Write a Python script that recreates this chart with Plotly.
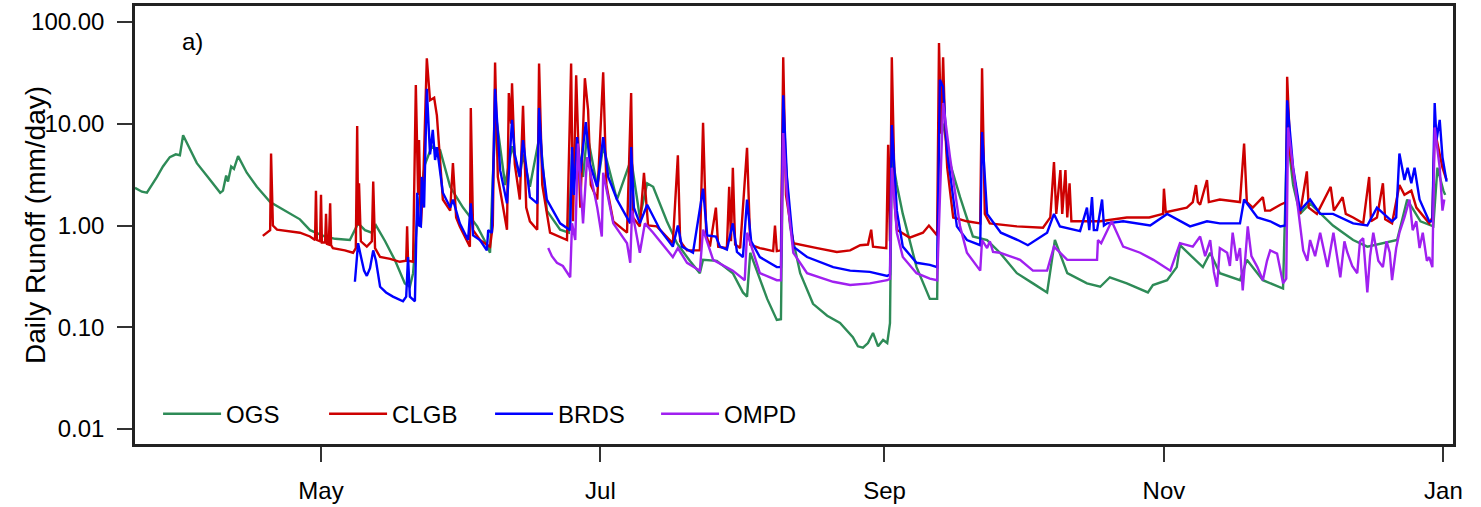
import pandas as pd
import plotly.graph_objects as go

# Days since 2013-05-01 and daily runoff (mm/day)
BASE = pd.Timestamp("2013-05-01")

ogs_day = [-40.6, -40.2, -39.1, -38.0, -36.9, -35.8, -34.5, -33.0, -31.7, -30.8,
           -30.1, -28.6, -27.1, -24.7, -22.0, -21.4, -20.7, -20.3, -19.6, -19.0,
           -18.1, -16.2, -14.0, -11.1, -7.4, -4.6, -2.4, 0.9, 3.1, 6.3,
           8.1, 9.6, 11.1, 12.0, 14.0, 16.2, 18.3, 19.4, 20.1, 21.2,
           22.7, 24.2, 26.0, 28.2, 31.0, 34.1, 35.8, 36.9, 37.5, 38.2,
           40.2, 41.7, 43.4, 44.1, 45.6, 47.8, 49.3, 52.2, 54.1, 54.8,
           55.9, 57.2, 58.1, 60.3, 61.6, 64.6, 67.7, 69.6, 71.2, 72.5,
           75.5, 77.7, 80.5, 82.7, 83.4, 86.4, 89.9, 92.1, 93.0, 93.7,
           97.4, 99.5, 100.4, 100.9, 102.4, 104.6, 107.4, 110.5, 113.3, 116.1,
           117.2, 118.3, 119.4, 120.5, 121.6, 122.7, 123.6, 124.2, 124.6, 125.7,
           127.0, 130.0, 132.9, 134.5, 134.9, 135.8, 137.3, 139.5, 142.3, 145.4,
           148.2, 151.9, 155.4, 158.5, 160.2, 162.9, 167.2, 170.1, 172.2,
           175.9, 180.5, 181.6, 184.7, 186.8, 187.5, 192.5, 194.1, 196.2, 200.6,
           202.1, 205.6, 210.0, 210.9, 212.2, 213.7, 215.9, 220.9, 225.3, 228.4,
           234.9, 237.1, 240.0, 242.8, 243.7, 245.0, 245.4]
ogs_val = [2.35, 2.3, 2.15, 2.1, 2.5, 3.0, 3.8, 4.7, 5.0, 4.9,
           7.7, 5.6, 4.1, 3.0, 2.1, 2.2, 3.1, 2.7, 3.8, 3.6,
           4.8, 3.3, 2.4, 1.7, 1.36, 1.15, 0.90, 0.78, 0.74, 0.72,
           1.05, 0.9, 0.85, 1.0, 0.7, 0.45, 0.27, 0.25, 0.34, 1.5,
           4.0, 6.0, 5.5, 2.4, 1.5, 0.98, 0.7, 0.54, 3.0, 12,
           2.5, 6.0, 3.0, 5.0, 2.4, 8.0, 1.4, 0.91, 0.85, 5.0,
           6.5, 3.0, 8.0, 2.4, 6.0, 1.8, 4.5, 1.2, 2.6, 2.4,
           1.1, 0.67, 0.45, 0.34, 0.46, 0.45, 0.34, 0.22, 0.2, 0.54,
           0.19, 0.118, 0.12, 10, 0.98, 0.34, 0.17, 0.13, 0.11, 0.08,
           0.065, 0.063, 0.07, 0.088, 0.065, 0.075, 0.07, 0.11, 5.0, 2.5,
           1.3, 0.39, 0.19, 0.19, 8.0, 10, 4.1, 1.9, 0.78, 0.72,
           0.54, 0.34, 0.27, 0.22, 0.72, 0.34, 0.27, 0.25, 0.31,
           0.27, 0.22, 0.26, 0.29, 0.39, 0.64, 0.39, 0.54, 0.34, 0.29,
           0.46, 0.29, 0.24, 8.0, 2.5, 1.3, 1.65, 1.0, 0.72, 0.62,
           0.72, 1.8, 1.1, 0.98, 3.7, 2.2, 2.0]

clgb_day = [-12.7, -11.8, -11.1, -10.9, -10.5, -9.6, -6.8, -4.6, -2.4, -1.3,
            -1.1, -0.9, -0.2, 0.0, 0.2, 0.9, 1.1, 1.3, 1.7, 2.0,
            2.2, 2.6, 5.2, 7.0, 7.6, 7.9, 8.1, 8.3, 8.7, 10.0,
            11.1, 11.4, 11.8, 12.9, 15.1, 17.2, 18.6, 18.8, 19.0, 20.1,
            20.7, 21.2, 21.4, 21.8, 22.3, 23.1, 23.8, 24.7, 25.3, 26.6,
            28.2, 28.8, 29.5, 30.3, 32.5, 32.7, 33.2, 34.7, 36.9, 37.5,
            38.0, 38.6, 40.6, 41.0, 41.5, 41.7, 42.3, 43.4, 44.1, 44.8,
            45.6, 47.2, 47.6, 48.3, 50.0, 53.7, 54.6, 55.0, 55.7, 56.6,
            57.6, 58.3, 58.9, 60.3, 61.6, 62.3, 63.8, 66.8, 67.7, 68.1,
            69.6, 70.5, 71.4, 73.3, 76.8, 77.9, 78.4, 79.9, 82.7, 83.4,
            84.1, 84.9, 86.2, 86.7, 88.6, 89.1, 89.5, 89.9, 90.4, 91.5,
            93.0, 93.7, 95.8, 98.7, 99.1, 99.5, 100.4, 100.9, 101.5, 103.1,
            108.3, 112.6, 115.5, 117.7, 119.4, 120.1, 120.5, 122.7, 123.4, 123.8,
            124.2, 124.6, 125.3, 125.7, 128.5, 131.4, 132.7, 134.5, 134.9, 135.4,
            135.8, 136.2, 136.7, 138.0, 141.0, 143.9, 144.3, 144.9, 146.0, 151.9,
            157.6, 159.2, 159.6, 160.0, 160.5, 160.9, 161.4, 161.8, 162.5, 162.9,
            163.4, 163.8, 170.1, 175.9, 180.8, 183.8, 184.0, 184.4, 185.9, 189.0,
            190.3, 191.0, 191.4, 191.9, 193.4, 193.8, 196.2, 200.6, 201.5, 202.1,
            203.4, 205.6, 206.1, 207.2, 209.4, 210.7, 210.9, 211.6, 213.7, 215.2,
            215.6, 217.4, 220.4, 221.1, 223.0, 223.7, 225.3, 227.5, 228.8, 229.2,
            230.5, 231.8, 232.3, 233.8, 235.4, 236.5, 238.0, 239.1, 241.9, 242.6,
            243.1, 244.2, 244.8, 245.7]
clgb_val = [0.79, 0.85, 0.9, 5.1, 1.0, 0.91, 0.88, 0.85, 0.78, 0.72,
            2.2, 0.72, 0.7, 2.0, 0.68, 0.68, 1.3, 0.66, 0.65, 1.65,
            0.64, 0.6, 0.57, 0.54, 0.6, 9.5, 1.0, 2.6, 0.7, 0.62,
            0.7, 2.7, 0.6, 0.49, 0.47, 0.44, 0.45, 0.98, 0.45, 0.44,
            24, 2.0, 6.9, 1.0, 2.5, 44, 17, 18, 12, 1.8,
            1.4, 4.1, 1.2, 0.98, 0.62, 14.3, 0.9, 0.72, 0.62, 1.0,
            40, 3.0, 0.91, 20, 10, 25, 4, 1.8, 15, 1.5,
            1.1, 0.91, 39, 2.5, 0.85, 0.72, 39, 1.1, 30, 1.5,
            28, 13.7, 2.5, 1.8, 32, 2.5, 1.1, 0.85, 20, 1.2,
            0.98, 3.3, 1.0, 0.98, 0.67, 4.9, 0.7, 0.57, 0.57, 10.2,
            0.8, 0.62, 1.5, 0.62, 0.6, 2.4, 0.7, 3.7, 0.65, 0.6,
            5.8, 0.65, 0.6, 0.56, 1.0, 0.56, 0.57, 45, 2.0, 0.67,
            0.6, 0.55, 0.57, 0.64, 0.65, 0.91, 0.62, 0.6, 0.6, 6.2,
            0.7, 45, 1.5, 0.91, 0.76, 0.85, 1.0, 0.8, 62, 8,
            45, 10, 3.7, 1.2, 1.1, 1.05, 35, 1.3, 1.05, 0.98,
            0.95, 1.2, 2.1, 4.2, 1.3, 2.0, 3.5, 1.3, 3.5, 1.2,
            2.6, 1.1, 1.1, 1.2, 1.2, 1.3, 2.3, 1.35, 1.4, 1.5,
            1.7, 2.5, 1.7, 1.6, 2.8, 1.7, 1.8, 1.7, 6.4, 1.7,
            1.5, 1.9, 1.4, 1.4, 1.6, 1.7, 29, 5.0, 1.3, 3.4,
            1.5, 1.3, 2.4, 1.4, 1.9, 1.3, 1.2, 1.05, 3.0, 1.1,
            1.2, 2.6, 1.15, 1.05, 2.5, 2.0, 2.2, 1.5, 1.05, 1.2,
            8.7, 5, 3.7, 2.8]

brds_day = [7.4, 8.1, 8.7, 9.4, 10.0, 10.7, 11.4, 12.0, 12.9, 14.2,
            15.7, 16.8, 17.9, 18.6, 19.0, 19.4, 20.5, 21.0, 21.4, 21.8,
            22.0, 22.5, 23.1, 23.8, 24.4, 24.9, 25.3, 26.6, 28.2, 28.8,
            30.3, 32.1, 32.7, 33.2, 34.7, 36.2, 36.5, 37.3, 38.0, 39.1,
            40.6, 41.7, 42.3, 43.4, 44.1, 45.6, 47.2, 47.6, 48.3, 49.3,
            52.2, 54.4, 54.8, 55.2, 55.9, 56.6, 57.8, 58.7, 60.3, 61.6,
            62.7, 64.6, 67.5, 67.7, 68.3, 69.6, 71.2, 74.0, 76.8, 77.9,
            78.8, 81.2, 83.4, 84.3, 86.2, 87.1, 88.6, 89.9, 90.8, 92.1,
            93.0, 93.9, 95.8, 99.5, 100.4, 100.9, 101.7, 103.1, 106.1, 111.8,
            115.5, 119.8, 123.6, 124.2, 124.6, 125.7, 127.0, 130.0, 132.9, 134.5,
            135.1, 135.8, 136.7, 137.3, 138.8, 141.0, 143.9, 144.3, 145.4, 148.4,
            152.1, 154.3, 158.5, 160.0, 161.3, 165.7, 167.2, 167.7, 168.3, 168.7,
            169.4, 170.5, 170.9, 171.6, 175.1, 181.0, 184.7, 189.7, 193.4, 196.2,
            200.6, 201.5, 204.4, 207.2, 209.4, 210.5, 210.9, 212.2, 213.7, 215.9,
            218.1, 220.9, 225.3, 228.4, 230.5, 233.8, 234.7, 235.4, 236.5, 237.2,
            238.0, 238.7, 239.8, 241.9, 242.6, 243.1, 243.5, 244.2, 244.8, 245.7]
brds_val = [0.28, 0.67, 0.5, 0.36, 0.32, 0.38, 0.57, 0.45, 0.25, 0.22,
            0.2, 0.19, 0.18, 0.2, 0.49, 0.2, 0.18, 2.1, 1.0, 0.98,
            3.0, 1.5, 22, 5, 8.7, 4.4, 5.9, 2.1, 1.5, 1.8,
            1.05, 0.72, 1.65, 0.8, 0.72, 0.57, 0.9, 0.85, 22, 3.5,
            1.65, 10.9, 5, 3.0, 6.9, 1.9, 1.65, 14.3, 4, 1.8,
            1.05, 0.9, 5.9, 2.0, 7.4, 3.3, 10.4, 4, 2.4, 7.4,
            3, 1.8, 1.05, 5.9, 1.5, 1.05, 1.6, 0.91, 0.62, 1.0,
            0.62, 0.54, 2.3, 0.8, 0.78, 0.62, 0.58, 1.05, 0.55, 0.49,
            1.8, 0.7, 0.49, 0.39, 0.39, 19, 3.0, 0.62, 0.49, 0.39,
            0.36, 0.35, 0.32, 0.33, 9.7, 1.4, 0.62, 0.43, 0.41, 0.39,
            27, 23, 5.0, 3.3, 0.98, 0.72, 0.64, 8.3, 1.3, 0.85,
            0.72, 0.64, 0.85, 1.3, 0.98, 0.88, 1.5, 0.9, 1.9, 0.9,
            0.9, 1.8, 1.0, 1.05, 1.1, 1.0, 1.3, 0.98, 1.1, 1.05,
            1.05, 1.8, 1.2, 1.1, 0.98, 1.0, 17, 3.7, 1.4, 1.8,
            1.3, 1.3, 1.05, 1.0, 1.5, 1.1, 1.2, 5.1, 2.8, 3.7,
            2.6, 3.7, 1.8, 1.1, 1.1, 16, 6.9, 10.9, 4.7, 2.7]

ompd_day = [49.6, 50.4, 51.5, 52.8, 54.4, 54.8, 55.5, 56.1, 57.2, 58.1,
            60.3, 61.3, 61.6, 63.8, 66.8, 67.5, 67.9, 69.6, 70.7, 72.5,
            76.8, 77.9, 79.9, 82.7, 83.4, 85.6, 89.9, 92.5, 93.0, 95.8,
            99.5, 100.4, 100.9, 101.7, 103.1, 106.1, 111.8, 115.5, 119.8, 123.6,
            124.2, 124.6, 125.7, 127.0, 130.0, 132.9, 134.5, 135.8, 137.3, 139.5,
            141.0, 143.9, 144.3, 145.4, 146.0, 146.7, 148.2, 152.6, 155.4, 158.5,
            160.0, 162.9, 167.2, 169.4, 169.6, 170.3, 172.6, 175.1, 178.8, 181.7,
            185.4, 187.5, 190.3, 191.9, 193.0, 194.1, 194.9, 195.6, 196.2, 197.8,
            198.4, 199.0, 199.9, 200.6, 201.2, 202.3, 203.1, 204.4, 205.6, 206.5,
            207.2, 208.7, 210.0, 210.7, 211.1, 213.1, 214.4, 215.3, 215.9, 217.0,
            218.1, 219.7, 221.0, 222.5, 223.4, 224.0, 225.1, 226.2, 226.8, 227.5,
            228.4, 229.0, 229.7, 230.8, 231.8, 232.6, 233.3, 233.8, 234.7, 235.4,
            236.5, 237.6, 238.3, 239.1, 239.8, 240.5, 241.4, 241.9, 242.6, 243.1,
            244.2, 244.8, 245.2]
ompd_val = [0.6, 0.5, 0.43, 0.4, 0.31, 1.05, 0.72, 6.4, 1.05, 4.7,
            1.5, 0.78, 3.3, 1.05, 0.67, 0.43, 1.4, 0.54, 1.05, 0.85,
            0.49, 0.6, 0.43, 0.36, 0.91, 0.46, 0.36, 0.29, 0.85, 0.34,
            0.29, 0.29, 8.1, 2.0, 0.54, 0.34, 0.28, 0.26, 0.27, 0.29,
            0.3, 3.7, 0.85, 0.49, 0.34, 0.3, 0.29, 16, 4.7, 0.98,
            0.54, 0.36, 0.72, 0.6, 0.7, 0.55, 0.54, 0.46, 0.36, 0.36,
            0.62, 0.46, 0.46, 0.46, 0.72, 0.67, 1.1, 0.62, 0.54, 0.46,
            0.36, 0.67, 0.62, 0.78, 0.5, 0.72, 0.35, 0.25, 0.6, 0.54,
            0.4, 0.85, 0.45, 0.6, 0.23, 0.98, 0.5, 0.39, 0.29, 0.45,
            0.57, 0.53, 0.27, 0.3, 9.2, 1.8, 0.57, 0.45, 0.72, 0.5,
            0.85, 0.39, 0.85, 0.31, 0.7, 0.55, 0.4, 0.34, 0.7, 0.75,
            0.22, 0.5, 0.85, 0.45, 0.39, 0.7, 0.54, 0.29, 0.6, 0.85,
            1.2, 1.8, 0.9, 1.1, 0.6, 0.85, 0.45, 0.49, 0.39, 9.2,
            3.7, 1.4, 1.8]

series_names = ["OGS", "CLGB", "BRDS", "OMPD"]
series_colors = ["#2E8B57", "#CD0000", "#0000FF", "#A020F0"]
month_ticks = ["2013-05-01", "2013-07-01", "2013-09-01", "2013-11-01", "2014-01-01"]
month_labels = ["May", "Jul", "Sep", "Nov", "Jan"]
y_ticks = [0.01, 0.1, 1, 10, 100]
y_labels = ["0.01", "0.10", "1.00", "10.00", "100.00"]

data = [(ogs_day, ogs_val), (clgb_day, clgb_val), (brds_day, brds_val), (ompd_day, ompd_val)]
for d, v in data:
    assert len(d) == len(v), (len(d), len(v))


def to_dates(days):
    return [BASE + pd.Timedelta(days=x) for x in days]


FONT = "Liberation Sans, Arial, Helvetica, sans-serif"
fig = go.Figure()
for (d, v), name, col in zip(data, series_names, series_colors):
    fig.add_trace(go.Scatter(x=to_dates(d), y=v, mode="lines", name=name,
                             line=dict(color=col, width=2.4)))

x_start = BASE + pd.Timedelta(days=-40.6)
x_end = BASE + pd.Timedelta(days=247.1)

fig.update_layout(
    width=1481, height=507,
    margin=dict(l=135, r=28, t=6, b=63),
    paper_bgcolor="white", plot_bgcolor="white",
    font=dict(family=FONT, size=24, color="black"),
    showlegend=True,
    legend=dict(orientation="h", x=0.0175, y=0.068, xanchor="left", yanchor="middle",
                bgcolor="rgba(0,0,0,0)", font=dict(size=24), itemwidth=58,
                entrywidth=93, tracegroupgap=0),
    xaxis=dict(type="date", range=[x_start, x_end], tickmode="array",
               tickvals=month_ticks, ticktext=month_labels, automargin=False,
               ticks="outside", ticklen=15, tickwidth=1.5, tickcolor="#333",
               showline=True, mirror=True, linecolor="#222", linewidth=2.5,
               showgrid=False, zeroline=False, ticklabelstandoff=8,
               tickfont=dict(size=24)),
    yaxis=dict(type="log", range=[-2.147, 2.157], tickmode="array",
               tickvals=y_ticks, ticktext=y_labels, automargin=False,
               ticks="outside", ticklen=15, tickwidth=1.5, tickcolor="#333",
               showline=True, mirror=True, linecolor="#222", linewidth=2.5,
               showgrid=False, zeroline=False, ticklabelstandoff=8,
               tickfont=dict(size=24)),
    annotations=[
        dict(text="a)", xref="paper", yref="paper", x=0.034, y=0.918,
             xanchor="left", yanchor="middle", showarrow=False, font=dict(size=24)),
        dict(text="Daily Runoff (mm/day)", xref="paper", yref="paper",
             x=-0.0759, y=0.5, xanchor="center", yanchor="middle",
             textangle=-90, showarrow=False, font=dict(size=28)),
    ],
)

fig.write_html("out.html", config={"displayModeBar": False},
               post_script="document.body.style.margin='0px';")
